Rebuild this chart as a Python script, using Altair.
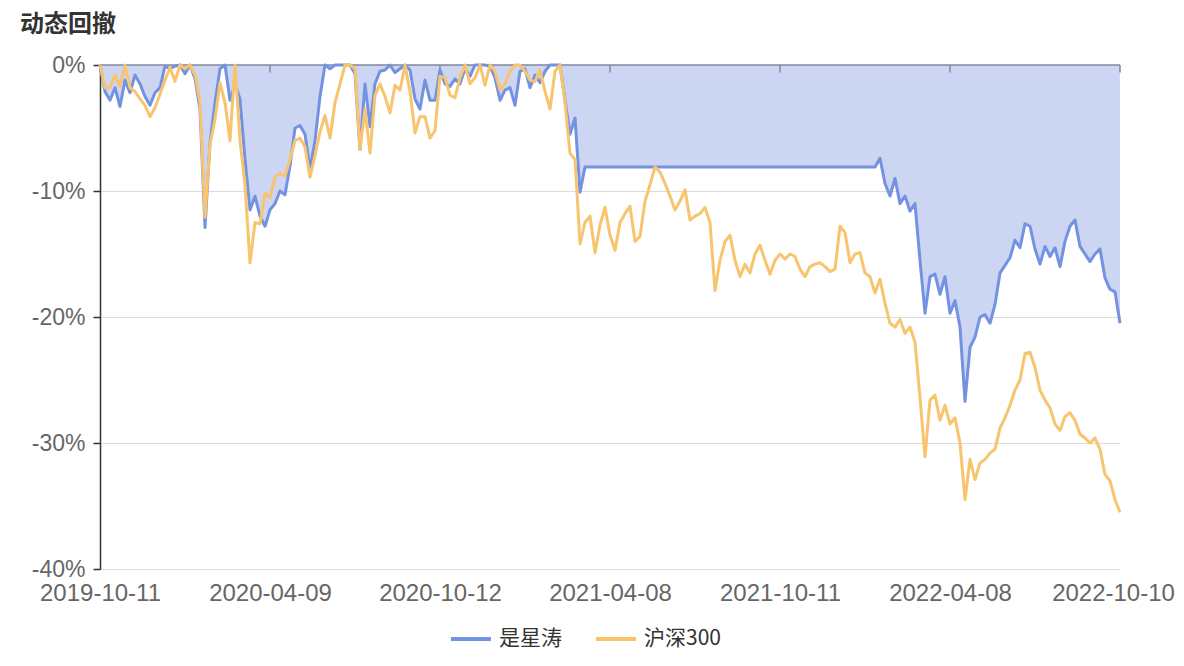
import altair as alt
import pandas as pd

# ---- data (drawdown, %) ----
tick_labels = ["2019-10-11", "2020-04-09", "2020-10-12", "2021-04-08",
               "2021-10-11", "2022-04-08", "2022-10-10"]
tick_step = 34
series_names = ["是星涛", "沪深300"]

star = [
    0, -2.1, -2.8, -1.8, -3.3, -1.2, -2.2, -0.8, -1.5, -2.5,
    -3.2, -2.2, -1.8, -0.1, -0.3, -0.1, 0, -0.7, 0, -1.1,
    -3.5, -12.9, -6.2, -3.0, -0.3, 0, -2.8, -1.5, -2.7, -7.5,
    -11.5, -10.4, -12.0, -12.8, -11.5, -11.0, -10.0, -10.3, -8.0, -5.0,
    -4.8, -5.5, -8.3, -6.0, -2.5, 0, -0.3, 0, 0, 0,
    0, -0.7, -6.7, -1.5, -4.9, -1.5, -0.5, -0.4, 0, -0.6,
    -0.3, 0, -0.4, -2.7, -3.5, -1.2, -2.8, -2.8, -0.4, -1.5,
    -1.7, -1.1, -1.5, -0.3, -0.9, 0, 0, 0, -0.1, -1.0,
    -2.8, -2.0, -1.8, -3.2, -0.5, -0.3, -1.8, -0.8, -1.4, -0.5,
    0, 0, 0, -2.8, -5.5, -4.2, -10.1, -8.1, -8.1, -8.1,
    -8.1, -8.1, -8.1, -8.1, -8.1, -8.1, -8.1, -8.1, -8.1, -8.1,
    -8.1, -8.1, -8.1, -8.1, -8.1, -8.1, -8.1, -8.1, -8.1, -8.1,
    -8.1, -8.1, -8.1, -8.1, -8.1, -8.1, -8.1, -8.1, -8.1, -8.1,
    -8.1, -8.1, -8.1, -8.1, -8.1, -8.1, -8.1, -8.1, -8.1, -8.1,
    -8.1, -8.1, -8.1, -8.1, -8.1, -8.1, -8.1, -8.1, -8.1, -8.1,
    -8.1, -8.1, -8.1, -8.1, -8.1, -8.1, -7.4, -9.4, -10.4, -9.0,
    -11.0, -10.4, -11.6, -11.0, -15.5, -19.7, -16.8, -16.6, -18.2, -16.8,
    -19.7, -18.7, -20.8, -26.7, -22.4, -21.6, -20.0, -19.8, -20.5, -19.0,
    -16.5, -15.9, -15.3, -13.9, -14.5, -12.6, -12.8, -14.6, -15.8, -14.4,
    -15.2, -14.5, -16.0, -14.0, -12.8, -12.3, -14.4, -15.0, -15.6, -15.0,
    -14.6, -16.9, -17.8, -18.0, -20.5,
]

hs300 = [
    0, -1.8, -1.8, -0.8, -1.7, 0, -1.8, -2.1, -2.7, -3.2,
    -4.1, -3.4, -2.3, -1.2, -0.2, -1.3, 0, -0.3, 0, -0.8,
    -3.0, -12.1, -6.3, -4.3, -1.4, -3.0, -6.0, 0, -6.0, -9.5,
    -15.7, -12.5, -12.6, -10.2, -10.5, -8.9, -8.6, -8.8, -7.5, -6.0,
    -5.8, -6.5, -8.9, -7.2, -5.3, -4.0, -5.8, -3.0, -1.5, 0,
    0, -0.3, -6.7, -3.5, -7.0, -2.4, -1.5, -2.5, -3.8, -1.6,
    -2.0, 0, -2.1, -5.4, -4.1, -4.1, -5.8, -5.2, -0.9, -1.0,
    -2.4, -2.6, -1.0, 0, -1.5, -1.0, 0, -1.6, 0, -0.5,
    -2.0, -1.5, -0.5, 0, 0, -0.5, -1.2, -1.3, -0.4, -2.1,
    -3.5, -0.5, 0, -3.0, -7.0, -7.5, -14.2, -12.5, -12.0, -14.9,
    -12.7, -11.3, -13.5, -14.7, -12.5, -11.8, -11.2, -14.0, -13.6, -10.8,
    -9.5, -8.1, -8.5, -9.4, -10.4, -11.5, -10.8, -9.9, -12.3, -12.0,
    -11.8, -11.3, -12.5, -17.9, -15.5, -14.0, -13.5, -15.5, -16.8, -15.8,
    -16.5, -15.0, -14.3, -15.5, -16.6, -15.5, -15.0, -15.4, -15.0, -15.2,
    -16.2, -16.8, -16.0, -15.8, -15.7, -16.0, -16.4, -16.2, -12.8, -13.3,
    -15.7, -15.0, -14.9, -16.5, -16.8, -18.1, -17.0, -18.9, -20.5, -20.8,
    -20.2, -21.3, -20.8, -22.0, -26.4, -31.1, -26.6, -26.2, -28.2, -27.0,
    -28.5, -28.0, -30.0, -34.5, -31.3, -32.9, -31.6, -31.3, -30.8, -30.5,
    -28.8, -28.0, -27.0, -25.8, -25.0, -22.9, -22.8, -24.0, -25.8, -26.6,
    -27.2, -28.5, -29.0, -27.9, -27.6, -28.2, -29.3, -29.6, -30.0, -29.6,
    -30.5, -32.5, -33.0, -34.5, -35.5,
]
y_ticks = [0, -10, -20, -30, -40]

# ---- tables built from the arrays ----
n = len(star)
wide = pd.DataFrame({"idx": list(range(n)), "star": star, "hs300": hs300})
long = pd.concat([
    pd.DataFrame({"idx": list(range(n)), "value": star, "series": series_names[0]}),
    pd.DataFrame({"idx": list(range(n)), "value": hs300, "series": series_names[1]}),
], ignore_index=True)
tick_pos = [i * tick_step for i in range(len(tick_labels))]
ticks_df = pd.DataFrame({"idx": tick_pos, "y0": [0] * len(tick_pos), "y1": [-0.6] * len(tick_pos)})
zero_df = pd.DataFrame({"v": [0]})

BLUE = "#7392e2"
ORANGE = "#f8c46e"
FILL = "#ccd6f2"
AXIS_GRAY = "#7f8799"

label_expr = "[" + ",".join("'%s'" % s for s in tick_labels) + "][round(datum.value/%d)]" % tick_step

x_scale = alt.Scale(domain=[0, n - 1], nice=False, zero=False)
y_scale = alt.Scale(domain=[-40, 0], nice=False)

x_axis = alt.Axis(values=tick_pos, labelExpr=label_expr, grid=False, domain=False,
                  ticks=False, labelFontSize=24, labelColor="#666666",
                  labelFont="Liberation Sans", labelPadding=12, title=None,
                  labelFlush=False, labelOverlap=False,
                  labelOffset={"condition": {"test": "datum.value == %d" % tick_pos[-1], "value": -7},
                               "value": 0})
y_axis = alt.Axis(values=y_ticks, labelExpr="datum.value + '%'", grid=True,
                  gridColor="#dcdcdc", gridWidth=1, domain=True, domainColor="#333333",
                  domainWidth=1.5, ticks=True, tickColor="#333333", tickSize=7,
                  tickWidth=1.5, labelFontSize=23, labelColor="#666666",
                  labelFont="Liberation Sans", labelPadding=8, title=None)

X = alt.X("idx:Q", scale=x_scale, axis=x_axis)

area = alt.Chart(wide).mark_area(color=FILL, opacity=1).encode(
    x=X,
    y=alt.Y("star:Q", scale=y_scale, axis=y_axis),
    y2=alt.datum(0),
)

zero_rule = alt.Chart(zero_df).mark_rule(color=AXIS_GRAY, strokeWidth=1.5).encode(
    y=alt.Y("v:Q", scale=y_scale, axis=y_axis)
)

tick_rules = alt.Chart(ticks_df).mark_rule(color=AXIS_GRAY, strokeWidth=1.5).encode(
    x=X,
    y=alt.Y("y0:Q", scale=y_scale, axis=y_axis),
    y2="y1:Q",
)

color = alt.Color(
    "series:N",
    scale=alt.Scale(domain=series_names, range=[BLUE, ORANGE]),
    legend=alt.Legend(
        orient="none", legendX=349, legendY=552, direction="horizontal",
        symbolType="stroke", symbolSize=1600, symbolStrokeWidth=4,
        labelFontSize=21, labelFont="Noto Sans CJK SC", labelColor="#333333",
        columnPadding=26, labelOffset=6, title=None, padding=0,
    ),
)

line_star = alt.Chart(long).transform_filter(
    alt.datum.series == series_names[0]
).mark_line(strokeWidth=3, strokeJoin="round").encode(
    x=X, y=alt.Y("value:Q", scale=y_scale, axis=y_axis), color=color
)
line_hs = alt.Chart(long).transform_filter(
    alt.datum.series == series_names[1]
).mark_line(strokeWidth=3, strokeJoin="round").encode(
    x=X, y=alt.Y("value:Q", scale=y_scale, axis=y_axis), color=color
)

chart = alt.layer(area, zero_rule, tick_rules, line_star, line_hs).properties(
    width=1020,
    height=504,
    autosize=alt.AutoSizeParams(type="none"),
    padding={"left": 92, "top": 57, "right": 56, "bottom": 94},
    title=alt.TitleParams(
        text="动态回撤", anchor="start", frame="group", fontSize=24, fontWeight="bold",
        color="#333333", font="Noto Sans CJK SC", dx=-80, offset=17,
    ),
).configure_view(stroke=None)

chart.save("out.html", embed_options={"renderer": "svg", "actions": False})
